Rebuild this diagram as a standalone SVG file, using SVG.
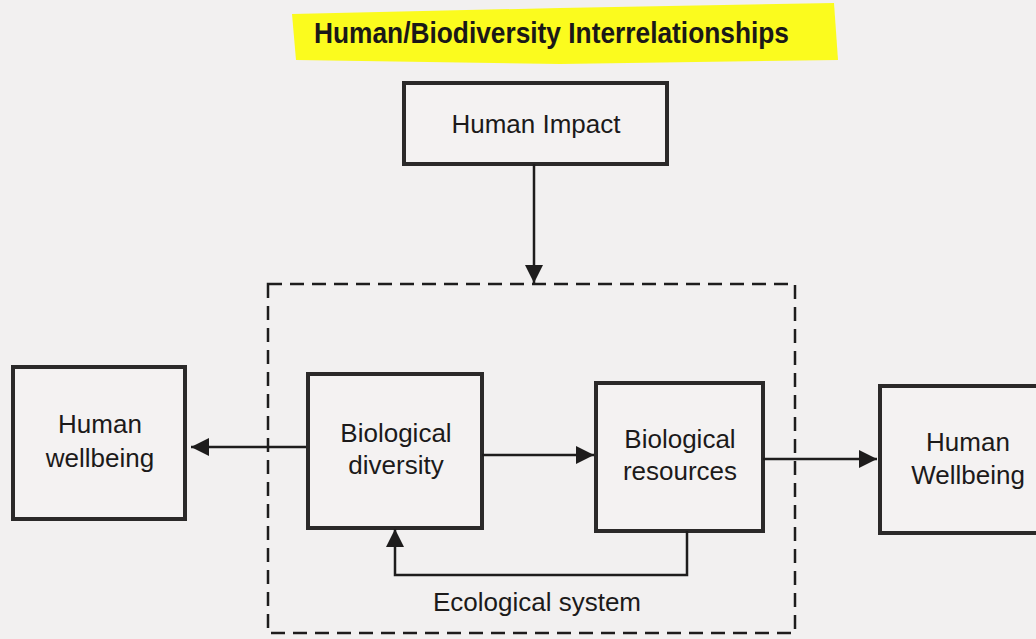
<svg xmlns="http://www.w3.org/2000/svg" width="1036" height="639" viewBox="0 0 1036 639">
<defs>
<style>
.bg{fill:#f2f0f0}
.box{fill:#f4f2f2;stroke:#2b2929;stroke-width:4}
.t{font-family:"Liberation Sans",Arial,Helvetica,sans-serif;font-size:26px;fill:#1c1a1a;text-anchor:middle}
.title{font-family:"Liberation Sans",Arial,Helvetica,sans-serif;font-weight:bold;font-size:30px;fill:#1a1818}
.ln{fill:none;stroke:#1e1c1c;stroke-width:2.5}
.dash{fill:none;stroke:#1e1c1c;stroke-width:2.5;stroke-dasharray:14 8}
</style>
<marker id="ah" viewBox="0 0 10 10" refX="10" refY="5" markerWidth="20" markerHeight="18" markerUnits="userSpaceOnUse" orient="auto">
<path d="M0,0 L10,5 L0,10 Z" fill="#1e1c1c"/>
</marker>
</defs>
<rect class="bg" x="0" y="0" width="1036" height="639"/>

<g id="title">
<path d="M292,14 L560,8 L834,3 L838,60 L560,64 L296,60 Z" fill="#fbfb1e"/>
<text class="title" x="314" y="43" textLength="475" lengthAdjust="spacingAndGlyphs">Human/Biodiversity Interrelationships</text>
</g>

<g id="ecological-system">
<rect class="dash" x="268" y="284" width="527" height="349"/>
<text class="t" x="537" y="611">Ecological system</text>
</g>

<g id="human-impact">
<rect class="box" x="404" y="83" width="263" height="81"/>
<text class="t" x="536" y="133">Human Impact</text>
</g>

<g id="human-wellbeing-left">
<rect class="box" x="13" y="367" width="172" height="152"/>
<text class="t" x="100" y="433">Human</text>
<text class="t" x="100" y="467">wellbeing</text>
</g>

<g id="biological-diversity">
<rect class="box" x="308" y="374" width="174" height="154"/>
<text class="t" x="396" y="442">Biological</text>
<text class="t" x="396" y="474">diversity</text>
</g>

<g id="biological-resources">
<rect class="box" x="596" y="383" width="167" height="148"/>
<text class="t" x="680" y="448">Biological</text>
<text class="t" x="680" y="480">resources</text>
</g>

<g id="human-wellbeing-right">
<rect class="box" x="880" y="386" width="176" height="147"/>
<text class="t" x="968" y="451">Human</text>
<text class="t" x="968" y="484">Wellbeing</text>
</g>

<g id="connectors">
<line class="ln" x1="534" y1="164" x2="534" y2="283" marker-end="url(#ah)"/>
<line class="ln" x1="306" y1="447" x2="191" y2="447" marker-end="url(#ah)"/>
<line class="ln" x1="482" y1="455" x2="594" y2="455" marker-end="url(#ah)"/>
<line class="ln" x1="763" y1="459" x2="877" y2="459" marker-end="url(#ah)"/>
<path class="ln" d="M687,531 L687,575 L395,575 L395,529" marker-end="url(#ah)"/>
</g>
</svg>
